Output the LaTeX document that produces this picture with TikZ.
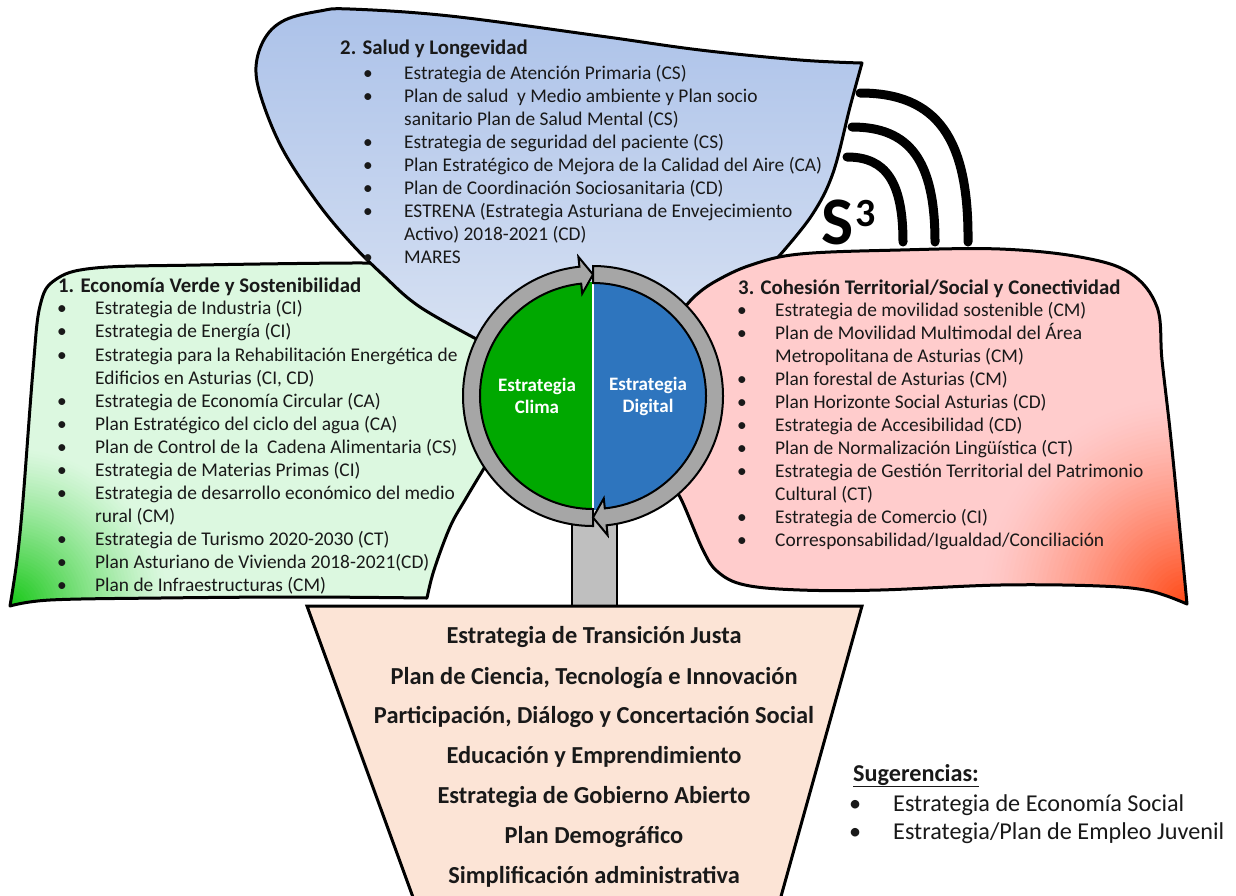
\documentclass[tikz,border=0pt]{standalone}
\usepackage{fontspec}
\setmainfont{Carlito}
\usetikzlibrary{calc}
\definecolor{lgreen}{RGB}{220,248,224}
\definecolor{cgreen}{RGB}{25,200,25}
\definecolor{pinkfill}{RGB}{255,204,204}
\definecolor{pcorner}{RGB}{255,75,25}
\definecolor{bluetop}{RGB}{172,194,233}
\definecolor{bluebot}{RGB}{222,230,244}
\definecolor{peach}{RGB}{252,228,214}
\definecolor{ringgray}{RGB}{166,166,166}
\definecolor{stemgray}{RGB}{191,191,191}
\definecolor{climagreen}{RGB}{0,168,0}
\definecolor{digitalblue}{RGB}{46,117,190}
\definecolor{textcol}{RGB}{25,25,25}
\begin{document}
\begin{tikzpicture}[x=1pt,y=-1pt,
  blob/.style={draw=black,line width=3,line join=round},
  item/.style={anchor=base west,inner sep=0,text=textcol,font=\fontsize{19.4}{23}\selectfont},
  ttl/.style={anchor=base west,inner sep=0,text=textcol,font=\bfseries\fontsize{20.8}{24}\selectfont},
  trap/.style={anchor=base,inner sep=0,text=textcol,font=\bfseries\fontsize{24.4}{28}\selectfont},
  sug/.style={anchor=base west,inner sep=0,text=textcol,font=\fontsize{24.2}{28}\selectfont},
  disktext/.style={align=center,inner sep=0,text=white,font=\bfseries\fontsize{19}{22}\selectfont},
  ring/.style={fill=ringgray,draw=black,line width=2,line join=miter},
  wave/.style={draw=black,line width=9,line cap=round}]
\useasboundingbox (0,0) rectangle (1236,895);
\fill[white] (0,0) rectangle (1236,895);

% green blob
\path[blob,fill=lgreen,path picture={
   \foreach \k in {0,...,49}{\pgfmathsetmacro\rr{160*(1-\k/50)}\pgfmathsetmacro\pp{100*(\k/49)^1.2}
     \fill[cgreen!\pp!lgreen] (10,606) circle (\rr);}}]
 plot[smooth,tension=0.6] coordinates {(486,465) (465,500) (450,527) (434,570) (427,598)}
 -- plot[smooth,tension=0.6] coordinates {(427,598) (300,597) (160,598) (50,600) (10,606)}
 -- plot[smooth,tension=0.6] coordinates {(10,606) (17,560) (23,500) (33,370) (40,306) (55,280) (95,268) (200,265) (350,263) (420,264)}
 -- (560,330) -- (560,420) -- cycle;

% blue blob
\shadedraw[blob,top color=bluetop,bottom color=bluebot]
 plot[smooth,tension=0.6] coordinates {(482,342) (420,307) (383,275) (350,242) (317,202) (283,150) (262,100) (256,67) (265,38) (285,20) (320,11) (350,9) (450,16) (600,36) (700,50) (800,60) (862,63)}
 -- plot[smooth,tension=0.6] coordinates {(862,63) (850,107) (833,173) (812,215) (780,255)}
 -- (720,320) -- (593,400) -- cycle;

% pink blob
\path[blob,fill=pinkfill,path picture={
   \foreach \k in {0,...,49}{\pgfmathsetmacro\rr{210*(1-\k/50)}\pgfmathsetmacro\pp{100*(\k/49)^1.35}
     \fill[pcorner!\pp!pinkfill] (1187,604) circle (\rr);}}]
 plot[smooth,tension=0.6] coordinates {(682,311) (695,296) (716,281) (751,265) (800,254) (900,250) (1000,249) (1080,257) (1130,273) (1157,307) (1162,360) (1170,430) (1177,500) (1187,604)}
 -- plot[smooth,tension=0.6] coordinates {(1187,604) (1150,591) (1100,586) (1000,585) (880,590) (800,590) (745,585) (718,572) (703,550) (680,497) (665,478)}
 -- (650,450) -- (655,330) -- cycle;

% S3 waves
\draw[wave] (847,157) .. controls (886,157) and (903,182) .. (903,242);
\draw[wave] (852,127) .. controls (910,127) and (935,161) .. (935,242);
\draw[wave] (860,93) .. controls (937,93) and (969,138) .. (968,242);
\node[anchor=base west,inner sep=0,font=\bfseries\fontsize{68}{68}\selectfont] (S) at (821,244) {S};
\node[anchor=base west,inner sep=0,font=\bfseries\fontsize{40}{40}\selectfont] (three) at (855,226) {3};

% stem and trapezoid
\filldraw[fill=stemgray,draw=black,line width=2.5] (572,515) rectangle (617,606);
\filldraw[fill=peach,draw=black,line width=3] (307,606) -- (862,606) -- (780,900) -- (414,900) -- cycle;

% central disk
\coordinate (C) at (593,396);
\fill[climagreen] (C) -- ($(C)+(270:114)$) arc[start angle=270,end angle=90,radius=114] -- cycle;
\fill[digitalblue] (C) -- ($(C)+(-90:114)$) arc[start angle=-90,end angle=90,radius=114] -- cycle;
\draw[white,line width=2.5] ($(C)+(0,-113)$) -- ($(C)+(0,113)$);
\filldraw[ring] ($(C)+(90:130)$) arc[start angle=90,end angle=264,radius=130] -- ($(C)+(264:140)$) -- ($(C)+(270:121.5)$) -- ($(C)+(264:103)$) -- ($(C)+(264:113)$) arc[start angle=264,end angle=90,radius=113] -- cycle;
\filldraw[ring] ($(C)+(270:130)$) arc[start angle=270,end angle=444,radius=130] -- ($(C)+(444:140)$) -- ($(C)+(450:121.5)$) -- ($(C)+(444:103)$) -- ($(C)+(444:113)$) arc[start angle=444,end angle=270,radius=113] -- cycle;
\node[disktext] (clima) at (537,396) {Estrategia\\Clima};
\node[disktext] (digital) at (648,396) {Estrategia\\Digital};

% top list
\node[ttl] (t2) at (340,54) {2. Salud y Longevidad};
\foreach \y/\t [count=\i] in {73/{Estrategia de Atención Primaria (CS)},96/{Plan de salud~ y Medio ambiente y Plan socio},119/{sanitario Plan de Salud Mental (CS)},142/{Estrategia de seguridad del paciente (CS)},165/{Plan Estratégico de Mejora de la Calidad del Aire (CA)},188/{Plan de Coordinación Sociosanitaria (CD)},211/{ESTRENA (Estrategia Asturiana de Envejecimiento},234/{Activo) 2018-2021 (CD)},257/{MARES}}
  \node[item] (s\i) at (404,\y+6.5) {\t};
\foreach \y [count=\i] in {73,96,142,165,188,211,257}
  \node[item] (sb\i) at (363,\y+6.5) {•};

% green list
\node[ttl] (t1) at (58,292) {1. Economía Verde y Sostenibilidad};
\foreach \y/\t [count=\i] in {308/{Estrategia de Industria (CI)},331/{Estrategia de Energía (CI)},355/{Estrategia para la Rehabilitación Energética de},378/{Edificios en Asturias (CI, CD)},401/{Estrategia de Economía Circular (CA)},424/{Plan Estratégico del ciclo del agua (CA)},447/{Plan de Control de la~ Cadena Alimentaria (CS)},470/{Estrategia de Materias Primas (CI)},493/{Estrategia de desarrollo económico del medio},516/{rural (CM)},539/{Estrategia de Turismo 2020-2030 (CT)},562/{Plan Asturiano de Vivienda 2018-2021(CD)},585/{Plan de Infraestructuras (CM)}}
  \node[item] (g\i) at (95,\y+6.5) {\t};
\foreach \y [count=\i] in {308,331,355,401,424,447,470,493,539,562,585}
  \node[item] (gb\i) at (57,\y+6.5) {•};

% pink list
\node[ttl] (t3) at (738,294) {3. Cohesión Territorial/Social y Conectividad};
\foreach \y/\t [count=\i] in {310/{Estrategia de movilidad sostenible (CM)},333/{Plan de Movilidad Multimodal del Área},356/{Metropolitana de Asturias (CM)},379/{Plan forestal de Asturias (CM)},402/{Plan Horizonte Social Asturias (CD)},425/{Estrategia de Accesibilidad (CD)},448/{Plan de Normalización Lingüística (CT)},471/{Estrategia de Gestión Territorial del Patrimonio},494/{Cultural (CT)},517/{Estrategia de Comercio (CI)},540/{Corresponsabilidad/Igualdad/Conciliación}}
  \node[item] (p\i) at (775,\y+6.5) {\t};
\foreach \y [count=\i] in {310,333,379,402,425,448,471,517,540}
  \node[item] (pb\i) at (737,\y+6.5) {•};

% trapezoid texts
\foreach \y/\t [count=\i] in {636/{Estrategia de Transición Justa},677/{Plan de Ciencia, Tecnología e Innovación},716/{Participación, Diálogo y Concertación Social},756/{Educación y Emprendimiento},796/{Estrategia de Gobierno Abierto},836/{Plan Demográfico},876/{Simplificación administrativa}}
  \node[trap] (z\i) at (594,\y+7.5) {\t};

% suggestions
\node[anchor=base west,inner sep=0,text=textcol,font=\bfseries\fontsize{24.2}{28}\selectfont] (sugt) at (853,781) {\underline{Sugerencias:}};
\node[sug] (sug1) at (893,811) {Estrategia de Economía Social};
\node[sug] (sug2) at (893,839) {Estrategia/Plan de Empleo Juvenil};
\node[sug] (sugb1) at (849,811) {•};
\node[sug] (sugb2) at (849,839) {•};
\end{tikzpicture}
\end{document}
